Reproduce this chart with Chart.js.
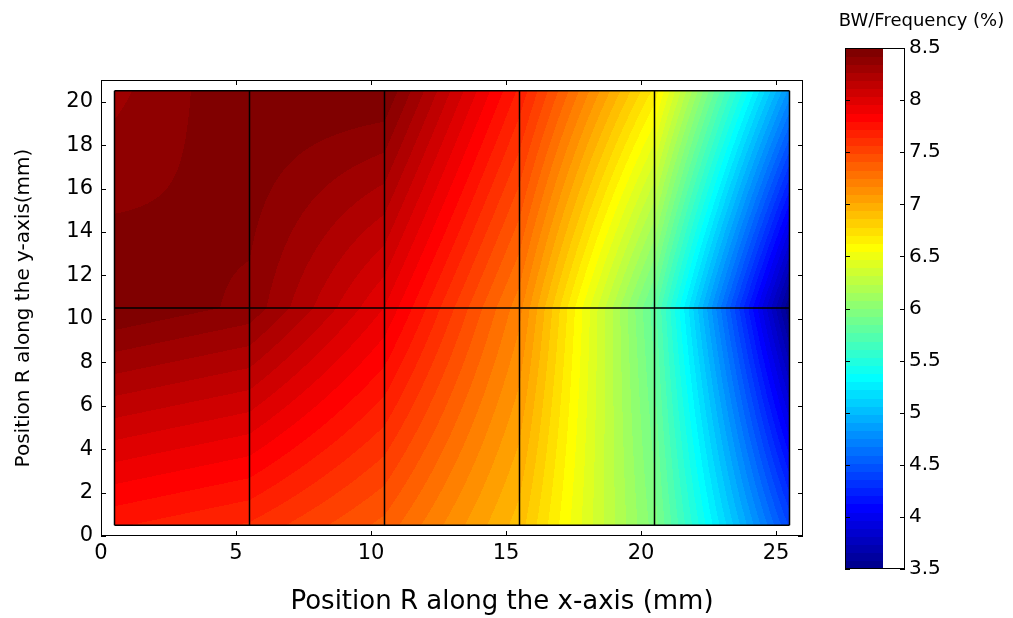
<!DOCTYPE html>
<html>
<head>
<meta charset="utf-8">
<script src="https://cdn.jsdelivr.net/npm/chart.js@4.4.1/dist/chart.umd.min.js"></script>
<style>
  body { margin: 0; background: #fff; }
  #wrap { position: relative; width: 1013px; height: 618px; }
  #main { position: absolute; left: 0; top: 0; }
  #cbar { position: absolute; left: 838px; top: 0; }
</style>
</head>
<body>
<div id="wrap">
  <canvas id="main" width="1004" height="618"></canvas>
  <canvas id="cbar" width="167" height="618"></canvas>
</div>
<script>
// measurement nodes (mm)
const xNodes = [0.5, 5.5, 10.5, 15.5, 20.5, 25.5];
const yNodes = [0.5, 10.5, 20.5];

// BW/Frequency (%) read at each node, one row per y node
const bwRow0 = [7.73, 7.63, 7.38, 6.90, 5.96, 4.42];   // y = 0.5
const bwRow1 = [8.50, 8.40, 7.95, 7.20, 5.80, 3.50];   // y = 10.5
const bwRow2 = [8.32, 8.50, 8.50, 7.70, 6.68, 4.80];   // y = 20.5
const bwRows = [bwRow0, bwRow1, bwRow2];

const xTicks = [0, 5, 10, 15, 20, 25];
const yTicks = [0, 2, 4, 6, 8, 10, 12, 14, 16, 18, 20];
const cbTicks = [3.5, 4, 4.5, 5, 5.5, 6, 6.5, 7, 7.5, 8, 8.5];
const cMin = 3.5, cMax = 8.5;
const nColors = 64;

const FONT = "'DejaVu Sans', sans-serif";
Chart.defaults.color = '#000';
Chart.defaults.font.family = FONT;

// matlab jet(64)
function jet(k) {
  const n = 16;
  const u = j => (j < 1 || j > 47) ? 0 : (j <= 16 ? j / n : (j <= 31 ? 1 : (48 - j) / n));
  return [u(k - 24), u(k - 8), u(k + 8)].map(c => Math.round(c * 255));
}
function levelOf(v) {
  const k = Math.floor((v - cMin) / (cMax - cMin) * nColors) + 1;
  return Math.min(nColors, Math.max(1, k));
}

// bilinear value inside the node grid
function bwAt(x, y) {
  let i = 0, j = 0;
  while (i < xNodes.length - 2 && x > xNodes[i + 1]) i++;
  while (j < yNodes.length - 2 && y > yNodes[j + 1]) j++;
  const tx = (x - xNodes[i]) / (xNodes[i + 1] - xNodes[i]);
  const ty = (y - yNodes[j]) / (yNodes[j + 1] - yNodes[j]);
  const a = bwRows[j][i], b = bwRows[j][i + 1];
  const c = bwRows[j + 1][i], d = bwRows[j + 1][i + 1];
  return (a * (1 - tx) + b * tx) * (1 - ty) + (c * (1 - tx) + d * tx) * ty;
}

const contourPlugin = {
  id: 'contour',
  beforeDatasetsDraw(chart) {
    const {ctx, scales: {x, y}} = chart;
    const left = Math.round(x.getPixelForValue(xNodes[0]));
    const right = Math.round(x.getPixelForValue(xNodes[xNodes.length - 1]));
    const top = Math.round(y.getPixelForValue(yNodes[yNodes.length - 1]));
    const bottom = Math.round(y.getPixelForValue(yNodes[0]));
    const w = right - left, h = bottom - top;
    const off = document.createElement('canvas');
    off.width = w; off.height = h;
    const octx = off.getContext('2d');
    const img = octx.createImageData(w, h);
    for (let py = 0; py < h; py++) {
      const vy = y.getValueForPixel(top + py + 0.5);
      for (let px = 0; px < w; px++) {
        const vx = x.getValueForPixel(left + px + 0.5);
        const col = jet(levelOf(bwAt(vx, vy)));
        const p = (py * w + px) * 4;
        img.data[p] = col[0]; img.data[p + 1] = col[1]; img.data[p + 2] = col[2]; img.data[p + 3] = 255;
      }
    }
    octx.putImageData(img, 0, 0);
    ctx.drawImage(off, left, top);
  }
};

// box round the axes with inward ticks on all sides
const boxPlugin = {
  id: 'box',
  afterDraw(chart) {
    const {ctx, chartArea: a, scales} = chart;
    const tl = 5;
    const isBar = chart.canvas.id === 'cbar';
    ctx.save();
    ctx.strokeStyle = '#000';
    ctx.lineWidth = 1;
    ctx.beginPath();
    if (!isBar) {
      xTicks.forEach(v => {
        const px = Math.round(scales.x.getPixelForValue(v)) + 0.5;
        ctx.moveTo(px, a.bottom); ctx.lineTo(px, a.bottom - tl);
        ctx.moveTo(px, a.top); ctx.lineTo(px, a.top + tl);
      });
    }
    (isBar ? cbTicks : yTicks).forEach(v => {
      const py = Math.round(scales.y.getPixelForValue(v)) + 0.5;
      ctx.moveTo(a.left, py); ctx.lineTo(a.left + tl, py);
      ctx.moveTo(a.right, py); ctx.lineTo(a.right - tl, py);
    });
    ctx.stroke();
    ctx.strokeRect(Math.round(a.left) + 0.5, Math.round(a.top) + 0.5,
      Math.round(a.right - a.left) - 1, Math.round(a.bottom - a.top) - 1);
    ctx.restore();
  }
};

const meshSets = [];
xNodes.forEach(xv => meshSets.push({
  data: [{x: xv, y: yNodes[0]}, {x: xv, y: yNodes[yNodes.length - 1]}]
}));
yNodes.forEach(yv => meshSets.push({
  data: [{x: xNodes[0], y: yv}, {x: xNodes[xNodes.length - 1], y: yv}]
}));
meshSets.forEach(d => {
  d.showLine = true;
  d.borderColor = '#000';
  d.backgroundColor = '#000';
  d.borderWidth = 1.5;
  d.pointRadius = 0;
});

// a scale that only takes up room
const spacer = (pos, width) => ({
  type: 'linear', position: pos, min: 0, max: 1,
  afterFit: s => { s.width = width; },
  grid: { display: false, drawTicks: false },
  border: { display: false },
  ticks: { display: false }
});

new Chart(document.getElementById('main'), {
  type: 'scatter',
  data: { datasets: meshSets },
  options: {
    responsive: false,
    animation: false,
    events: [],
    layout: { padding: { top: 80, right: 0, left: 0, bottom: 0 } },
    plugins: {
      legend: { display: false },
      tooltip: { enabled: false },
      // x-axis label, centred on the figure like the original
      title: {
        display: true, position: 'bottom',
        text: 'Position R along the x-axis (mm)',
        font: { size: 26, weight: 'normal' }, color: '#000',
        padding: { top: 0, bottom: 0 }
      }
    },
    scales: {
      x: {
        type: 'linear', min: 0, max: 26,
        afterBuildTicks: s => { s.ticks = xTicks.map(v => ({value: v})); },
        afterFit: s => { s.height = 50.8; },
        grid: { display: false, drawTicks: false },
        border: { display: false },
        ticks: { font: { size: 21 }, padding: 5, maxRotation: 0 }
      },
      y: {
        type: 'linear', min: 0, max: 21,
        afterBuildTicks: s => { s.ticks = yTicks.map(v => ({value: v})); },
        afterFit: s => { s.width = 101; },
        grid: { display: false, drawTicks: false },
        border: { display: false },
        ticks: { font: { size: 21 }, padding: 8 },
        title: {
          display: true, text: 'Position R along the y-axis(mm)',
          font: { size: 20 }, padding: { top: 12, bottom: 0 }
        }
      },
      // empty space on the right where the colour bar sits
      yPad: spacer('right', 201)
    }
  },
  plugins: [contourPlugin, boxPlugin]
});

// colour bar
const cbImageFrac = 0.633;
const colorbarPlugin = {
  id: 'colorbar',
  beforeDatasetsDraw(chart) {
    const {ctx, scales: {x, y}} = chart;
    const x0 = x.getPixelForValue(0), x1 = Math.round(x.getPixelForValue(cbImageFrac));
    for (let k = 1; k <= nColors; k++) {
      const lo = cMin + (k - 1) * (cMax - cMin) / nColors;
      const hi = cMin + k * (cMax - cMin) / nColors;
      const y0 = y.getPixelForValue(hi), y1 = y.getPixelForValue(lo);
      const c = jet(k);
      ctx.fillStyle = 'rgb(' + c.join(',') + ')';
      ctx.fillRect(x0, Math.floor(y0), x1 - x0, Math.ceil(y1) - Math.floor(y0));
    }
  }
};

new Chart(document.getElementById('cbar'), {
  type: 'scatter',
  data: { datasets: [] },
  options: {
    responsive: false,
    animation: false,
    events: [],
    layout: { padding: { top: 0, right: 0, left: 0, bottom: 49 } },
    plugins: {
      legend: { display: false },
      tooltip: { enabled: false },
      title: {
        display: true, text: 'BW/Frequency (%)',
        font: { size: 18, weight: 'normal' }, color: '#000',
        padding: { top: 11, bottom: 15.4 }
      }
    },
    scales: {
      x: { type: 'linear', min: 0, max: 1, display: false },
      yPad: spacer('left', 7),
      y: {
        type: 'linear', position: 'right', min: cMin, max: cMax,
        afterBuildTicks: s => { s.ticks = cbTicks.map(v => ({value: v})); },
        afterFit: s => { s.width = 100; },
        grid: { display: false, drawTicks: false },
        border: { display: false },
        ticks: { font: { size: 20 }, padding: 4, callback: v => String(v) }
      }
    }
  },
  plugins: [colorbarPlugin, boxPlugin]
});
</script>
</body>
</html>
